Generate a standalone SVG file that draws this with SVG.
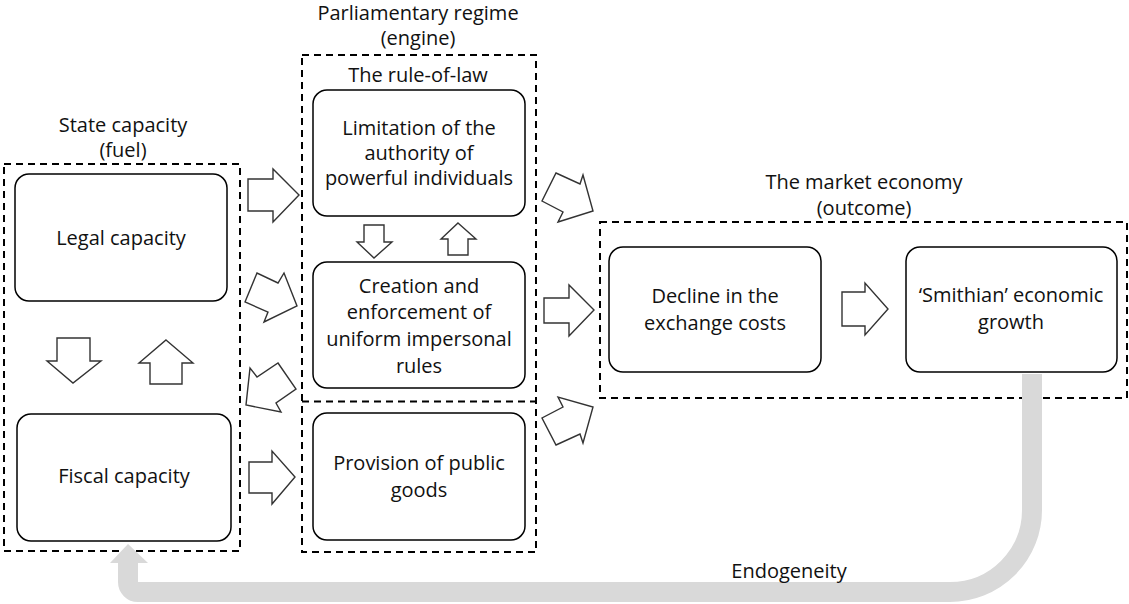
<svg xmlns="http://www.w3.org/2000/svg" width="1129" height="604" viewBox="0 0 1129 604">
<style>
.grp{fill:none;stroke:#000;stroke-width:2;stroke-dasharray:7 5}
.box{fill:#fff;stroke:#000;stroke-width:1.5}
.arr{fill:#fff;stroke:#333;stroke-width:1.4;stroke-linejoin:miter}
text{font-family:"Open Sans","Noto Sans",sans-serif;font-size:20px;fill:#111;text-anchor:middle}
</style>
<rect width="1129" height="604" fill="#fff"/>

<g id="state-capacity">
<rect class="grp" x="4" y="164" width="236" height="387"/>
<text x="123" y="132">State capacity</text>
<text x="123" y="157">(fuel)</text>
</g>
<g id="parliamentary-regime">
<rect class="grp" x="302" y="55" width="234" height="497"/>
<line class="grp" x1="302" y1="401.5" x2="536" y2="401.5"/>
<text x="418" y="20">Parliamentary regime</text>
<text x="418" y="45">(engine)</text>
<text x="418" y="82">The rule-of-law</text>
</g>
<g id="market-economy">
<rect class="grp" x="600" y="222" width="527" height="176"/>
<text x="864" y="189">The market economy</text>
<text x="864" y="215">(outcome)</text>
</g>

<g id="legal-capacity">
<rect class="box" x="15" y="174" width="212" height="127" rx="14"/>
<text x="121" y="245">Legal capacity</text>
</g>
<g id="fiscal-capacity">
<rect class="box" x="17" y="414" width="214" height="127" rx="14"/>
<text x="124" y="483">Fiscal capacity</text>
</g>
<g id="limitation">
<rect class="box" x="313" y="90" width="212" height="126" rx="14"/>
<text x="419" y="135">Limitation of the</text>
<text x="419" y="160">authority of</text>
<text x="419" y="185">powerful individuals</text>
</g>
<g id="creation">
<rect class="box" x="313" y="262" width="212" height="126" rx="14"/>
<text x="419" y="293">Creation and</text>
<text x="419" y="319">enforcement of</text>
<text x="419" y="346">uniform impersonal</text>
<text x="419" y="373">rules</text>
</g>
<g id="public-goods">
<rect class="box" x="313" y="413" width="212" height="127" rx="14"/>
<text x="419" y="470">Provision of public</text>
<text x="419" y="497">goods</text>
</g>
<g id="decline">
<rect class="box" x="609" y="247" width="212" height="125" rx="14"/>
<text x="715" y="303">Decline in the</text>
<text x="715" y="330">exchange costs</text>
</g>
<g id="smithian">
<rect class="box" x="906" y="247" width="211" height="125" rx="14"/>
<text x="1011" y="302">‘Smithian’ economic</text>
<text x="1011" y="329">growth</text>
</g>

<g id="connectors">
<polygon class="arr" points="57,338 90,338 90,361 101,361 73,383 47,361 57,361"/>
<polygon class="arr" points="166,340 193,363 182,363 182,384 150,384 150,363 139,363"/>
<polygon class="arr" points="364,225 384,225 384,242 392,242 374,258 357,242 364,242"/>
<polygon class="arr" points="458,223 476,239 468,239 468,255 448,255 448,239 441,239"/>
<polygon class="arr" points="248,179 273,179 273,169 299,195 273,222 273,211 248,211"/>
<polygon class="arr" points="245,302 257,273 278,283 284,273 297,306 264,322 268,312"/>
<polygon class="arr" points="278,363 296,389 276,403 281,412 246,405 250,368 257,377"/>
<polygon class="arr" points="249,462 272,462 272,451 295,477 272,504 272,493 249,493"/>
<polygon class="arr" points="556,173 580,184 583,175 593,211 558,222 563,212 542,201"/>
<polygon class="arr" points="544,298 569,298 569,285 594,310 569,336 569,323 544,323"/>
<polygon class="arr" points="556,445 580,434 583,443 593,407 558,397 563,407 542,418"/>
<polygon class="arr" points="842,292 865,292 865,283 888,309 865,335 865,326 842,326"/>
<path d="M1032,374 V510 A82,82 0 0 1 950,592 H138 A10,10 0 0 1 128,582 V561" fill="none" stroke="#d9d9d9" stroke-width="20"/>
<polygon points="110,563 128,544 148,563" fill="#d9d9d9"/>
<text x="789" y="578">Endogeneity</text>
</g>
</svg>
